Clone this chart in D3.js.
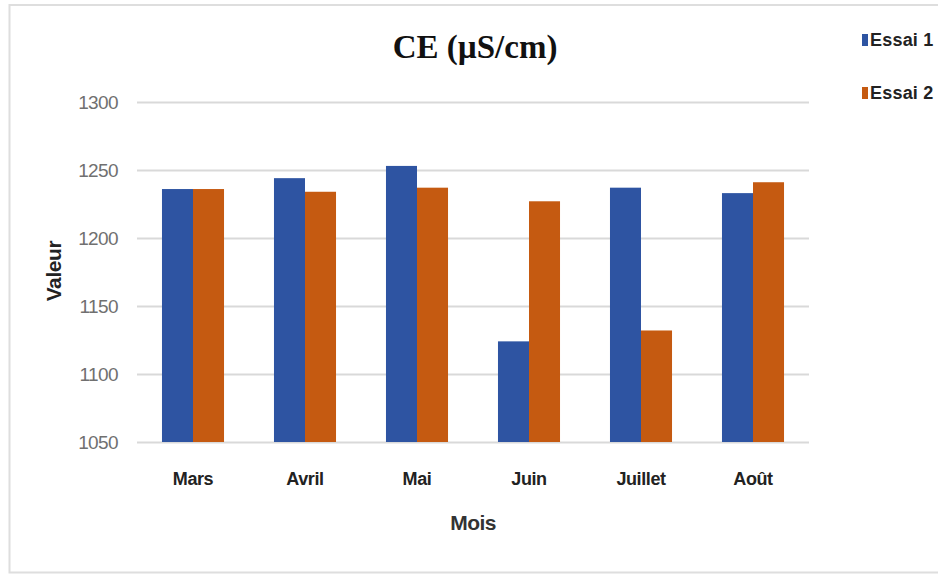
<!DOCTYPE html>
<html>
<head>
<meta charset="utf-8">
<script src="https://cdn.jsdelivr.net/npm/d3@7"></script>
<style>
  html, body { margin: 0; padding: 0; background: #fff; }
  svg { display: block; }
</style>
</head>
<body>
<div id="chart"></div>
<script>
const months = ["Mars", "Avril", "Mai", "Juin", "Juillet", "Août"];
const seriesNames = ["Essai 1", "Essai 2"];
const essai1 = [1236, 1244, 1253, 1124, 1237, 1233];
const essai2 = [1236, 1234, 1237, 1227, 1132, 1241];
const yTicks = [1050, 1100, 1150, 1200, 1250, 1300];
const colors = ["#2E54A2", "#C55A11"];

const W = 938, H = 575;
const margin = { left: 137, right: 129, top: 102, bottom: 133 };

const svg = d3.select("#chart").append("svg")
  .attr("width", W).attr("height", H);

svg.append("rect").attr("x", 0).attr("y", 0).attr("width", W).attr("height", H).attr("fill", "#fff");
// outer frame
svg.append("path")
  .attr("d", `M${W + 2},5 H9.5 V572.5 H${W + 2}`)
  .attr("fill", "none").attr("stroke", "#dedede").attr("stroke-width", 2);

const x0 = d3.scaleBand().domain(months)
  .range([margin.left, W - margin.right])
  .paddingInner(0.446).paddingOuter(0.223);
const x1 = d3.scaleBand().domain(seriesNames).range([0, x0.bandwidth()]);
const y = d3.scaleLinear().domain([1050, 1300]).range([H - margin.bottom, margin.top]);

// gridlines
const yAxis = d3.axisLeft(y).tickValues(yTicks)
  .tickSize(-(W - margin.left - margin.right)).tickPadding(19).tickFormat(d3.format("d"));
const gy = svg.append("g").attr("transform", `translate(${margin.left},0)`).call(yAxis);
gy.select(".domain").remove();
gy.selectAll(".tick line").attr("stroke", "#d9d9d9").attr("stroke-width", 2);
gy.selectAll(".tick text").attr("fill", "#707070").attr("font-family", "Liberation Sans, Arial, sans-serif")
  .attr("font-size", 19).attr("letter-spacing", -0.6);

// bars
const data = months.map((m, i) => ({ month: m, values: [essai1[i], essai2[i]] }));
const groups = svg.append("g").selectAll("g").data(data).join("g")
  .attr("transform", d => `translate(${x0(d.month)},0)`);
groups.selectAll("rect").data(d => d.values.map((v, j) => ({ name: seriesNames[j], v, j })))
  .join("rect")
  .attr("x", d => x1(d.name))
  .attr("y", d => y(d.v))
  .attr("width", x1.bandwidth())
  .attr("height", d => y(1050) - y(d.v))
  .attr("fill", d => colors[d.j]);

// x axis labels
const xAxis = d3.axisBottom(x0).tickSize(0).tickPadding(30);
const gx = svg.append("g").attr("transform", `translate(0,${y(1050)})`).call(xAxis);
gx.select(".domain").remove();
gx.selectAll(".tick text").attr("fill", "#222").attr("font-weight", "bold")
  .attr("font-family", "Liberation Sans, Arial, sans-serif").attr("font-size", 18)
  .attr("letter-spacing", -0.4);

// title
svg.append("text").attr("x", 475).attr("y", 58).attr("text-anchor", "middle")
  .attr("font-family", "Liberation Serif, Times New Roman, serif").attr("font-weight", "bold")
  .attr("font-size", 33).attr("fill", "#111").text("CE (µS/cm)");

// axis titles
svg.append("text").attr("x", 473).attr("y", 530).attr("text-anchor", "middle")
  .attr("font-family", "Liberation Sans, Arial, sans-serif").attr("font-weight", "bold")
  .attr("font-size", 21).attr("fill", "#333").attr("letter-spacing", -0.6).text("Mois");
svg.append("text").attr("transform", "translate(61,271) rotate(-90)").attr("text-anchor", "middle")
  .attr("font-family", "Liberation Sans, Arial, sans-serif").attr("font-weight", "bold")
  .attr("font-size", 21).attr("fill", "#222").attr("letter-spacing", -0.4).text("Valeur");

// legend
const lg = svg.append("g").selectAll("g").data(seriesNames).join("g")
  .attr("transform", (d, i) => `translate(862,${40 + i * 53})`);
lg.append("rect").attr("x", 0).attr("y", -6).attr("width", 6).attr("height", 12)
  .attr("fill", (d, i) => colors[i]);
lg.append("text").attr("x", 8).attr("y", 6).attr("font-family", "Liberation Sans, Arial, sans-serif")
  .attr("font-weight", "bold").attr("font-size", 18).attr("fill", "#222").attr("letter-spacing", 0.2)
  .text(d => d);
</script>
</body>
</html>
